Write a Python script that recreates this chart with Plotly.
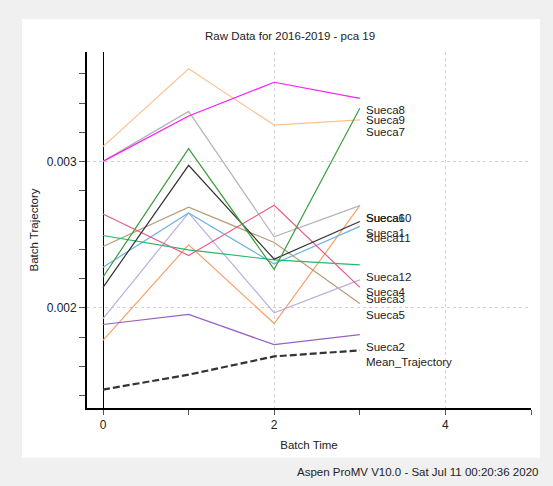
import plotly.graph_objects as go

# Batch time points
batch_time = [0, 1, 2, 3]

# Raw trajectories per batch
sueca1 = [0.002140, 0.002975, 0.002333, 0.002591]
sueca2 = [0.001886, 0.001955, 0.001748, 0.001817]
sueca3 = [0.002642, 0.002358, 0.002702, 0.002140]
sueca4 = [0.001927, 0.002649, 0.001966, 0.002191]
sueca5 = [0.002420, 0.002688, 0.002447, 0.002030]
sueca6 = [0.001778, 0.002431, 0.001893, 0.002699]
sueca7 = [0.003103, 0.003635, 0.003250, 0.003286]
sueca8 = [0.003002, 0.003312, 0.003543, 0.003433]
sueca9 = [0.002211, 0.003089, 0.002264, 0.003365]
sueca10 = [0.003002, 0.003344, 0.002486, 0.002699]
sueca11 = [0.002278, 0.002649, 0.002301, 0.002557]
sueca12 = [0.002495, 0.002397, 0.002328, 0.002294]
mean_trajectory = [0.001441, 0.001543, 0.001668, 0.001709]

series = [
    ("Sueca10", sueca10, "#b4b4b4"),
    ("Sueca7", sueca7, "#fbc28e"),
    ("Sueca6", sueca6, "#f7a06a"),
    ("Sueca5", sueca5, "#b89c78"),
    ("Sueca4", sueca4, "#bcaedb"),
    ("Sueca11", sueca11, "#6db4e2"),
    ("Sueca12", sueca12, "#27b868"),
    ("Sueca3", sueca3, "#ea5a8c"),
    ("Sueca2", sueca2, "#9461c4"),
    ("Sueca1", sueca1, "#333333"),
    ("Sueca9", sueca9, "#3b9d3b"),
    ("Sueca8", sueca8, "#ff1aff"),
]

FONT = "Liberation Sans, Arial, sans-serif"
TEXT = "#222222"
FRAME = "#f0f0f0"

# The paper spans the whole window; the axes sit in a sub-domain of it.
W, H = 553, 486
PL, PR, PT, PB = 87, 531, 52, 408


def fx(px):
    return px / W


def fy(py):
    return 1 - py / H


fig = go.Figure()

for name, vals, color in series:
    fig.add_trace(go.Scatter(
        x=batch_time, y=vals, mode="lines", name=name,
        line=dict(color=color, width=1.2), showlegend=False,
    ))

fig.add_trace(go.Scatter(
    x=batch_time, y=mean_trajectory, mode="lines", name="Mean_Trajectory",
    line=dict(color="#333333", width=2.2, dash="7px,3px"), showlegend=False,
))

# End-of-line labels
annotations = []
for name, vals, _ in series + [("Mean_Trajectory", mean_trajectory, None)]:
    annotations.append(dict(
        x=batch_time[-1], y=vals[-1], xref="x", yref="y",
        text=name, showarrow=False, xanchor="left", yanchor="middle",
        xshift=4, yshift=-12, font=dict(family=FONT, size=11.5, color=TEXT),
    ))

annotations.append(dict(
    x=fx(540), y=fy(472), xref="paper", yref="paper",
    text="Aspen ProMV V10.0 - Sat Jul 11 00:20:36 2020",
    showarrow=False, xanchor="right", yanchor="middle",
    font=dict(family=FONT, size=11.5, color=TEXT),
))

annotations.append(dict(
    x=fx(289.5), y=fy(36), xref="paper", yref="paper",
    text="Raw Data for 2016-2019 - pca 19",
    showarrow=False, xanchor="center", yanchor="middle",
    font=dict(family=FONT, size=11.5, color=TEXT),
))

# White chart panel on the grey window
shapes = [dict(
    type="rect", xref="paper", yref="paper", layer="below",
    x0=fx(22), x1=fx(540), y0=fy(457.7), y1=fy(19),
    fillcolor="white", line=dict(width=0),
)]

fig.update_layout(
    width=W, height=H,
    margin=dict(l=0, r=0, t=0, b=0, pad=0),
    paper_bgcolor=FRAME,
    plot_bgcolor="white",
    font=dict(family=FONT, size=11.5, color=TEXT),
    annotations=annotations,
    shapes=shapes,
)

fig.update_xaxes(
    domain=[fx(PL), fx(PR)],
    range=[-0.187, 5.0],
    tick0=0, dtick=2, tickformat="d",
    ticks="outside", ticklen=5, tickcolor="#555555",
    showgrid=True, gridcolor="#d2d2d2", griddash="dot", gridwidth=1,
    minor=dict(dtick=1, ticks="outside", ticklen=5, tickcolor="#555555", showgrid=False),
    zeroline=True, zerolinecolor="black", zerolinewidth=1.2,
    showline=True, linecolor="black", linewidth=1.8,
    title=dict(text="Batch Time", standoff=10, font=dict(family=FONT, size=11.5, color=TEXT)),
    tickfont=dict(family=FONT, size=12, color=TEXT),
)

fig.update_yaxes(
    domain=[fy(PB), fy(PT)],
    range=[0.001315, 0.00375],
    tick0=0, dtick=0.001, tickformat=".3f",
    ticks="outside", ticklen=6, tickcolor="#555555",
    showgrid=True, gridcolor="#d2d2d2", griddash="dot", gridwidth=1,
    minor=dict(dtick=0.0002, ticks="outside", ticklen=6, tickcolor="#555555", showgrid=False),
    zeroline=False,
    showline=True, linecolor="black", linewidth=1.8,
    title=dict(text="Batch Trajectory", standoff=6, font=dict(family=FONT, size=11.5, color=TEXT)),
    tickfont=dict(family=FONT, size=12, color=TEXT),
)

fig.write_html("out.html")
